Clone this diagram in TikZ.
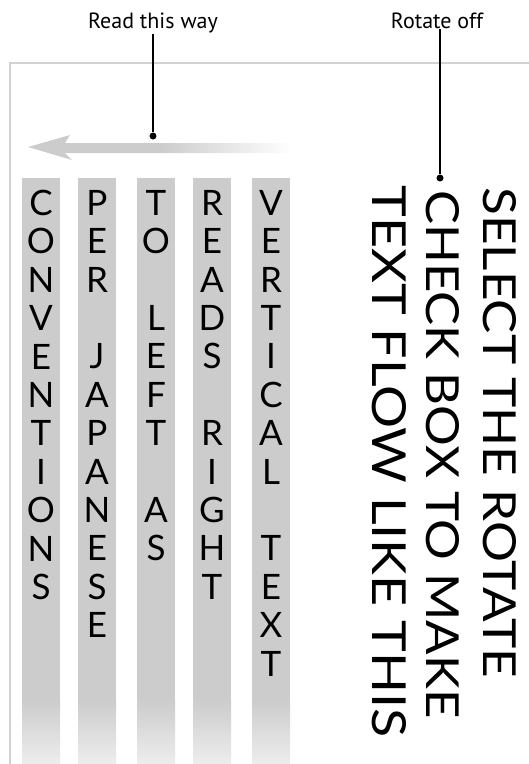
\documentclass[tikz,border=0pt]{standalone}
\usepackage{fontspec}
\setmainfont{PT Sans}
\newfontfamily\carved{Lato}
\usetikzlibrary{positioning}

\definecolor{barfill}{HTML}{CCCCCC}
\definecolor{framegray}{HTML}{D2D2D2}
\pgfdeclarehorizontalshading{arrowfade}{100bp}{color(0bp)=(barfill); color(50bp)=(barfill); color(75bp)=(white); color(100bp)=(white)}

\begin{document}
\begin{tikzpicture}[x=1pt, y=-1pt,
    bar/.style={fill=barfill, draw=none},
    colword/.style={anchor=north, inner sep=0pt, align=center, font=\carved\fontsize{35}{38.4}\selectfont},
    callout/.style={line width=1.6pt},
    dot/.style={circle, fill=black, inner sep=0pt, minimum size=7pt},
    lbl/.style={font=\fontsize{22}{26}\selectfont, anchor=base, inner sep=1pt},
    rotline/.style={rotate=-90, anchor=north west, inner sep=0pt, font=\carved\fontsize{46}{50}\selectfont},
]
\useasboundingbox (0,0) rectangle (529,764);

% Frame
\draw[framegray, line width=2pt] (529,63) -- (10,63) -- (10,764);

% Column strips
\foreach \x in {22,78,137,193,252} {
  \fill[bar] (\x,178) rectangle ++(38,522);
  \shade[top color=barfill, bottom color=barfill!35] (\x,700) rectangle ++(38,64);
}

% Letters, one column each
\node[colword] (conv) at (41,190) {C\\O\\N\\V\\E\\N\\T\\I\\O\\N\\S};
\node[colword] (japan) at (97,190) {P\\E\\R\\\mbox{}\\J\\A\\P\\A\\N\\E\\S\\E};
\node[colword] (left) at (156,190) {T\\O\\\mbox{}\\L\\E\\F\\T\\\mbox{}\\A\\S};
\node[colword] (right) at (212,190) {R\\E\\A\\D\\S\\\mbox{}\\R\\I\\G\\H\\T};
\node[colword] (vert) at (271,190) {V\\E\\R\\T\\I\\C\\A\\L\\\mbox{}\\T\\E\\X\\T};

% Reading arrow
\shade[shading=arrowfade] (28,147) -- (70,135) -- (65,143) -- (292,143) -- (292,153) -- (65,153) -- (72,160) -- cycle;

% Rotated text
\node[rotline] (select) at (517,187) {\resizebox{491pt}{33pt}{SELECT THE ROTATE}};
\node[rotline] (check) at (460,190) {\resizebox{528pt}{33pt}{CHECK BOX TO MAKE}};
\node[rotline] (flow) at (407,185) {\resizebox{552pt}{34pt}{TEXT FLOW LIKE THIS}};

% Callouts
\node[lbl] (readlbl) at (153,28) {Read this way};
\node[lbl] (rotlbl) at (437,28) {Rotate off};
\node[dot] (readdot) at (153,136) {};
\node[dot] (rotdot) at (440,178) {};
\draw[callout] (readlbl.south) -- (readdot);
\draw[callout] (rotlbl.south -| rotdot) -- (rotdot);

\end{tikzpicture}
\end{document}
